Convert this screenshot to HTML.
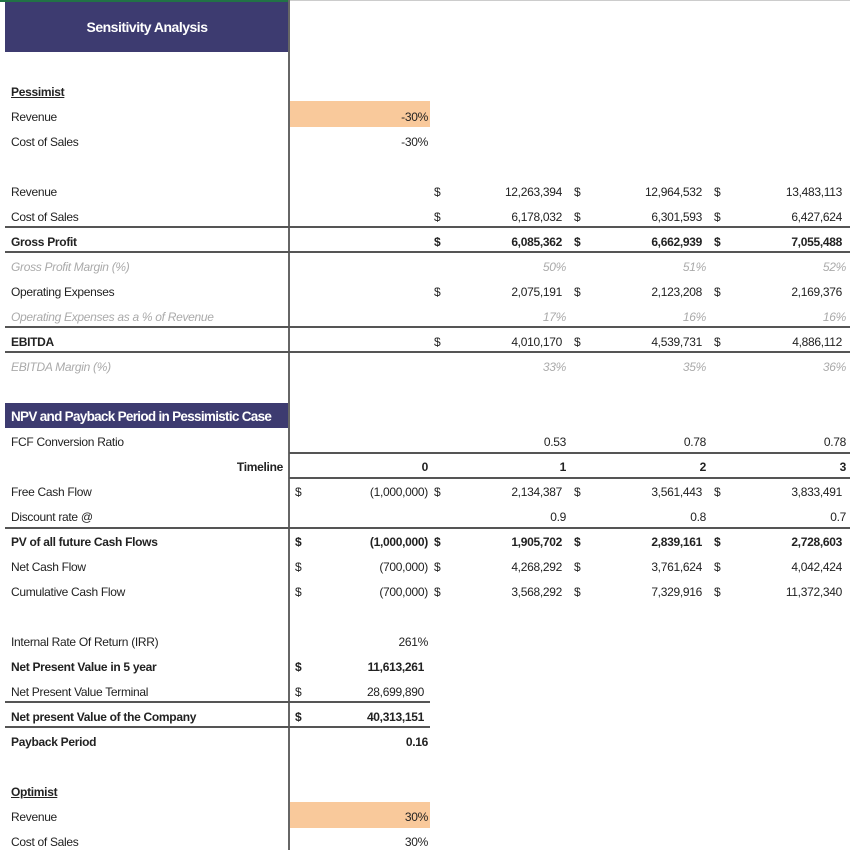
<!DOCTYPE html>
<html><head><meta charset="utf-8"><style>
body{margin:0;width:850px;height:850px;overflow:hidden;background:#fff;font-family:"Liberation Sans",sans-serif;font-size:12px;letter-spacing:-0.3px;color:#222;position:relative}
.r{position:absolute;left:0;width:850px;height:25px;line-height:30px}
.l{position:absolute;left:11px;white-space:nowrap}
.v{position:absolute;text-align:right;white-space:nowrap}
.d{position:absolute;white-space:nowrap}
.b{font-weight:bold}
.g{color:#aaa;font-style:italic}
.g2{color:#aaa}
.hl{position:absolute;height:2px;background:#555}
.B{right:422px}.C{right:284px}.D{right:144px}.E{right:4px}
.ac{margin-right:4px}
.dB{left:295px}.dC{left:434px}.dD{left:574px}.dE{left:714px}
</style></head><body>
<div style="position:absolute;left:0;top:0;width:289px;height:2px;background:#217346"></div>
<div style="position:absolute;left:289px;top:0;width:561px;height:1px;background:#ccc"></div>
<div style="position:absolute;left:5px;top:2px;width:284px;height:50px;background:#3d3b70;color:#fff;font-weight:bold;font-size:14px;letter-spacing:-0.5px;text-align:center;line-height:50px">Sensitivity Analysis</div>
<div style="position:absolute;left:5px;top:403px;width:284px;height:25px;background:#3d3b70;color:#fff;font-weight:bold;font-size:13.5px;letter-spacing:-0.7px;line-height:27px;padding-left:6px;box-sizing:border-box;white-space:nowrap;overflow:hidden">NPV and Payback Period in Pessimistic Case</div>
<div style="position:absolute;left:290px;top:101px;width:140px;height:26px;background:#f9c99b"></div>
<div style="position:absolute;left:290px;top:802px;width:140px;height:26px;background:#f9c99b"></div>
<div style="position:absolute;left:288px;top:0;width:2px;height:850px;background:#666"></div>

<div class="hl" style="left:5px;width:845px;top:226px"></div>
<div class="hl" style="left:5px;width:845px;top:251px"></div>
<div class="hl" style="left:5px;width:845px;top:326px"></div>
<div class="hl" style="left:5px;width:845px;top:351px"></div>
<div class="hl" style="left:289px;width:561px;top:452px"></div>
<div class="hl" style="left:289px;width:561px;top:477px"></div>
<div class="hl" style="left:5px;width:845px;top:527px"></div>
<div class="hl" style="left:5px;width:425px;top:701px"></div>
<div class="hl" style="left:5px;width:425px;top:726px"></div>

<div class="r" style="top:77px"><span class="l b" style="text-decoration:underline">Pessimist</span></div>
<div class="r" style="top:102px"><span class="l">Revenue</span><span class="v B">-30%</span></div>
<div class="r" style="top:127px"><span class="l">Cost of Sales</span><span class="v B">-30%</span></div>

<div class="r" style="top:177px"><span class="l">Revenue</span><span class="d dC">$</span><span class="v C ac">12,263,394</span><span class="d dD">$</span><span class="v D ac">12,964,532</span><span class="d dE">$</span><span class="v E ac">13,483,113</span></div>
<div class="r" style="top:202px"><span class="l">Cost of Sales</span><span class="d dC">$</span><span class="v C ac">6,178,032</span><span class="d dD">$</span><span class="v D ac">6,301,593</span><span class="d dE">$</span><span class="v E ac">6,427,624</span></div>
<div class="r b" style="top:227px"><span class="l">Gross Profit</span><span class="d dC">$</span><span class="v C ac">6,085,362</span><span class="d dD">$</span><span class="v D ac">6,662,939</span><span class="d dE">$</span><span class="v E ac">7,055,488</span></div>
<div class="r g" style="top:252px"><span class="l">Gross Profit Margin (%)</span><span class="v C">50%</span><span class="v D">51%</span><span class="v E">52%</span></div>
<div class="r" style="top:277px"><span class="l">Operating Expenses</span><span class="d dC">$</span><span class="v C ac">2,075,191</span><span class="d dD">$</span><span class="v D ac">2,123,208</span><span class="d dE">$</span><span class="v E ac">2,169,376</span></div>
<div class="r g" style="top:302px"><span class="l">Operating Expenses as a % of Revenue</span><span class="v C">17%</span><span class="v D">16%</span><span class="v E">16%</span></div>
<div class="r" style="top:327px"><span class="l b">EBITDA</span><span class="d dC">$</span><span class="v C ac">4,010,170</span><span class="d dD">$</span><span class="v D ac">4,539,731</span><span class="d dE">$</span><span class="v E ac">4,886,112</span></div>
<div class="r g" style="top:352px"><span class="l">EBITDA Margin (%)</span><span class="v C g2">33%</span><span class="v D g2">35%</span><span class="v E g2">36%</span></div>

<div class="r" style="top:427px"><span class="l">FCF Conversion Ratio</span><span class="v C">0.53</span><span class="v D">0.78</span><span class="v E">0.78</span></div>
<div class="r b" style="top:452px"><span class="v" style="right:567px">Timeline</span><span class="v B">0</span><span class="v C">1</span><span class="v D">2</span><span class="v E">3</span></div>
<div class="r" style="top:477px"><span class="l">Free Cash Flow</span><span class="d dB">$</span><span class="v B">(1,000,000)</span><span class="d dC">$</span><span class="v C ac">2,134,387</span><span class="d dD">$</span><span class="v D ac">3,561,443</span><span class="d dE">$</span><span class="v E ac">3,833,491</span></div>
<div class="r" style="top:502px"><span class="l">Discount rate @</span><span class="v C">0.9</span><span class="v D">0.8</span><span class="v E">0.7</span></div>
<div class="r b" style="top:527px"><span class="l">PV of all future Cash Flows</span><span class="d dB">$</span><span class="v B">(1,000,000)</span><span class="d dC">$</span><span class="v C ac">1,905,702</span><span class="d dD">$</span><span class="v D ac">2,839,161</span><span class="d dE">$</span><span class="v E ac">2,728,603</span></div>
<div class="r" style="top:552px"><span class="l">Net Cash Flow</span><span class="d dB">$</span><span class="v B">(700,000)</span><span class="d dC">$</span><span class="v C ac">4,268,292</span><span class="d dD">$</span><span class="v D ac">3,761,624</span><span class="d dE">$</span><span class="v E ac">4,042,424</span></div>
<div class="r" style="top:577px"><span class="l">Cumulative Cash Flow</span><span class="d dB">$</span><span class="v B">(700,000)</span><span class="d dC">$</span><span class="v C ac">3,568,292</span><span class="d dD">$</span><span class="v D ac">7,329,916</span><span class="d dE">$</span><span class="v E ac">11,372,340</span></div>

<div class="r" style="top:627px"><span class="l">Internal Rate Of Return (IRR)</span><span class="v B">261%</span></div>
<div class="r b" style="top:652px"><span class="l">Net Present Value in 5 year</span><span class="d dB">$</span><span class="v B ac">11,613,261</span></div>
<div class="r" style="top:677px"><span class="l">Net Present Value Terminal</span><span class="d dB">$</span><span class="v B ac">28,699,890</span></div>
<div class="r b" style="top:702px"><span class="l">Net present Value of the Company</span><span class="d dB">$</span><span class="v B ac">40,313,151</span></div>
<div class="r b" style="top:727px"><span class="l">Payback Period</span><span class="v B">0.16</span></div>

<div class="r" style="top:777px"><span class="l b" style="text-decoration:underline">Optimist</span></div>
<div class="r" style="top:802px"><span class="l">Revenue</span><span class="v B">30%</span></div>
<div class="r" style="top:827px"><span class="l">Cost of Sales</span><span class="v B">30%</span></div>
</body></html>
